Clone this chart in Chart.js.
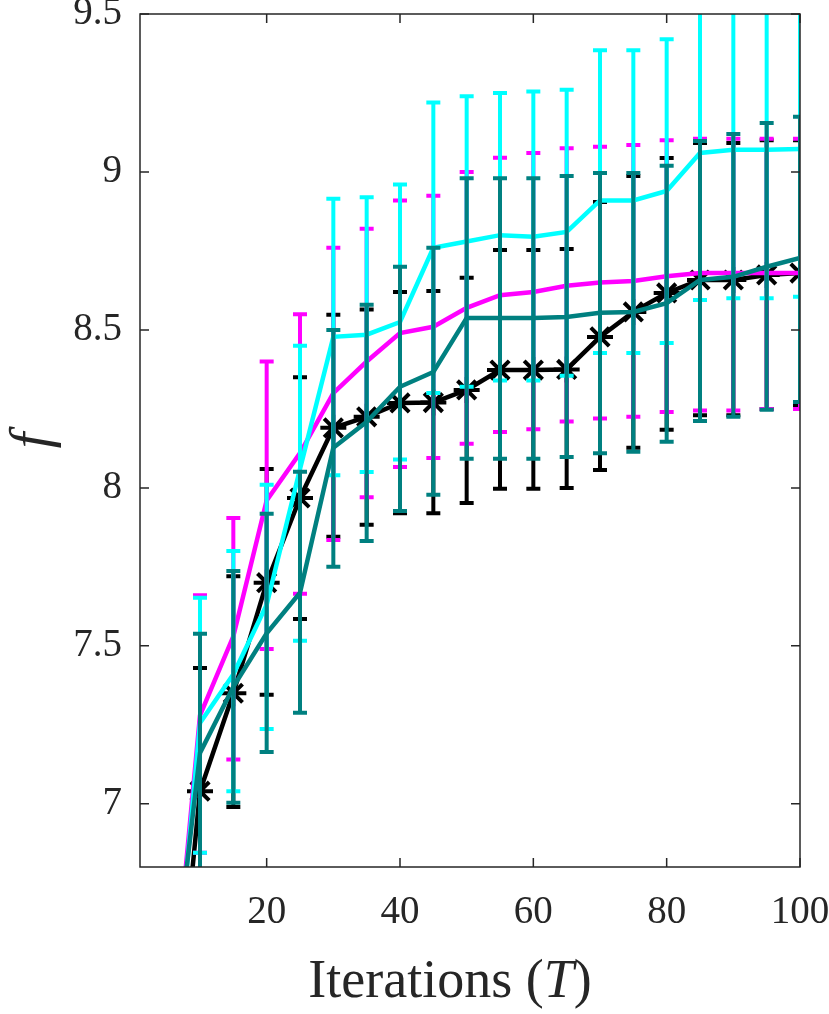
<!DOCTYPE html>
<html>
<head>
<meta charset="utf-8">
<script src="https://cdn.jsdelivr.net/npm/chart.js@4.4.0/dist/chart.umd.min.js"></script>
<style>
  html, body { margin: 0; padding: 0; background: #fff; }
  #wrap { width: 829px; height: 1014px; position: relative; }
</style>
</head>
<body>
<div id="wrap"><canvas id="chart"></canvas></div>
<script>
const iterations = [5, 10, 15, 20, 25, 30, 35, 40, 45, 50, 55, 60, 65, 70, 75, 80, 85, 90, 95, 100];

const magentaMean = [6.15, 7.28, 7.53, 7.96, 8.11, 8.30, 8.40, 8.49, 8.51, 8.57, 8.61, 8.62, 8.64, 8.65, 8.655, 8.67, 8.68, 8.68, 8.68, 8.68];
const magentaHi = [null, 7.66, 7.905, 8.40, 8.55, 8.76, 8.82, 8.91, 8.925, 9.00, 9.045, 9.06, 9.075, 9.08, 9.085, 9.10, 9.105, 9.105, 9.105, 9.105];
const magentaLo = [null, 6.845, 7.14, 7.49, 7.665, 7.835, 7.97, 8.066, 8.095, 8.14, 8.177, 8.186, 8.21, 8.22, 8.225, 8.24, 8.245, 8.245, 8.25, 8.25];

const cyanMean = [6.10, 7.256, 7.41, 7.63, 8.06, 8.478, 8.485, 8.525, 8.76, 8.78, 8.80, 8.795, 8.81, 8.91, 8.91, 8.94, 9.06, 9.07, 9.07, 9.073];
const cyanHi = [null, 7.652, 7.80, 8.01, 8.45, 8.915, 8.92, 8.96, 9.22, 9.24, 9.25, 9.255, 9.26, 9.385, 9.385, 9.42, 9.53, 9.54, 9.54, 9.54];
const cyanLo = [null, 6.845, 7.04, 7.237, 7.516, 8.04, 8.05, 8.09, 8.30, 8.32, 8.34, 8.34, 8.355, 8.427, 8.427, 8.459, 8.595, 8.60, 8.60, 8.605];

const blackMean = [5.95, 7.04, 7.35, 7.70, 7.968, 8.19, 8.225, 8.269, 8.27, 8.31, 8.373, 8.373, 8.375, 8.478, 8.557, 8.617, 8.658, 8.658, 8.674, 8.68];
const blackHi = [null, 7.43, 7.72, 8.06, 8.35, 8.548, 8.565, 8.62, 8.623, 8.665, 8.753, 8.753, 8.756, 8.905, 8.987, 9.044, 9.092, 9.092, 9.10, 9.10];
const blackLo = [null, 6.65, 6.99, 7.345, 7.585, 7.845, 7.883, 7.92, 7.92, 7.952, 7.997, 7.997, 8.0, 8.057, 8.127, 8.184, 8.23, 8.23, 8.25, 8.26];

const tealMean = [6.25, 7.161, 7.37, 7.54, 7.668, 8.127, 8.209, 8.32, 8.367, 8.538, 8.538, 8.538, 8.541, 8.554, 8.557, 8.585, 8.658, 8.668, 8.70, 8.728];
const tealHi = [null, 7.538, 7.737, 7.918, 8.051, 8.5, 8.58, 8.70, 8.76, 8.98, 8.98, 8.98, 8.987, 8.997, 8.997, 9.02, 9.098, 9.12, 9.155, 9.175];
const tealLo = [null, 6.78, 7.003, 7.164, 7.288, 7.75, 7.832, 7.927, 7.978, 8.092, 8.092, 8.092, 8.098, 8.11, 8.114, 8.146, 8.212, 8.225, 8.247, 8.272];

const xTicks = [20, 40, 60, 80, 100];
const yTicks = [7, 7.5, 8, 8.5, 9, 9.5];

const SERIF = "'Liberation Serif', 'Times New Roman', serif";
const AXIS_COLOR = "#262626";

function toPoints(vals) {
  return vals.map((v, i) => ({ x: iterations[i], y: v }));
}

// error bars drawn right before each dataset's line
const errorBars = {
  id: "errorBars",
  beforeDatasetDraw(chart, args) {
    const ds = chart.data.datasets[args.index];
    if (!ds.errHi) return;
    const { ctx, chartArea: a } = chart;
    const x = chart.scales.x, y = chart.scales.y;
    ctx.save();
    ctx.beginPath();
    ctx.rect(a.left, a.top, a.right - a.left, a.bottom - a.top);
    ctx.clip();
    ctx.strokeStyle = ds.borderColor;
    ctx.lineWidth = 4;
    ctx.lineCap = "butt";
    ds.errHi.forEach((hi, i) => {
      const lo = ds.errLo[i];
      if (hi == null || lo == null) return;
      const px = x.getPixelForValue(iterations[i]);
      const pHi = y.getPixelForValue(hi);
      const pLo = y.getPixelForValue(lo);
      ctx.beginPath();
      ctx.moveTo(px, pHi); ctx.lineTo(px, pLo);
      ctx.moveTo(px - 7, pHi); ctx.lineTo(px + 7, pHi);
      ctx.moveTo(px - 7, pLo); ctx.lineTo(px + 7, pLo);
      ctx.stroke();
    });
    ctx.restore();
  }
};

// box, inward ticks and axis titles
const frame = {
  id: "frame",
  afterDraw(chart) {
    const { ctx, chartArea: a } = chart;
    const x = chart.scales.x, y = chart.scales.y;
    ctx.save();
    ctx.strokeStyle = AXIS_COLOR;
    ctx.lineWidth = 1.5;
    ctx.strokeRect(a.left, a.top, a.right - a.left, a.bottom - a.top);
    ctx.beginPath();
    xTicks.forEach(t => {
      const px = x.getPixelForValue(t);
      ctx.moveTo(px, a.bottom); ctx.lineTo(px, a.bottom - 9);
      ctx.moveTo(px, a.top); ctx.lineTo(px, a.top + 9);
    });
    yTicks.forEach(t => {
      const py = y.getPixelForValue(t);
      ctx.moveTo(a.left, py); ctx.lineTo(a.left + 9, py);
      ctx.moveTo(a.right, py); ctx.lineTo(a.right - 9, py);
    });
    ctx.stroke();

    ctx.fillStyle = AXIS_COLOR;
    ctx.textBaseline = "alphabetic";
    const parts = [
      { t: "Iterations (", f: "54px " + SERIF },
      { t: "T", f: "italic 54px " + SERIF },
      { t: ")", f: "54px " + SERIF }
    ];
    let total = 0;
    parts.forEach(p => { ctx.font = p.f; p.w = ctx.measureText(p.t).width; total += p.w; });
    let cx = 450 - total / 2;
    ctx.textAlign = "left";
    parts.forEach(p => { ctx.font = p.f; ctx.fillText(p.t, cx, 997); cx += p.w; });

    ctx.translate(34, (a.top + a.bottom) / 2);
    ctx.rotate(-Math.PI / 2);
    ctx.textAlign = "center";
    ctx.textBaseline = "middle";
    ctx.font = "italic 56px " + SERIF;
    ctx.fillText("f", 0, 0);
    ctx.restore();
  }
};

new Chart(document.getElementById("chart"), {
  type: "line",
  data: {
    datasets: [
      {
        label: "black", data: toPoints(blackMean), errHi: blackHi, errLo: blackLo,
        borderColor: "#000000", backgroundColor: "#000000", borderWidth: 4.5,
        pointStyle: "star", pointRadius: 13, pointBorderWidth: 4, order: 4
      },
      {
        label: "magenta", data: toPoints(magentaMean), errHi: magentaHi, errLo: magentaLo,
        borderColor: "#FF00FF", backgroundColor: "#FF00FF", borderWidth: 4.5,
        pointRadius: 0, order: 3
      },
      {
        label: "cyan", data: toPoints(cyanMean), errHi: cyanHi, errLo: cyanLo,
        borderColor: "#00FFFF", backgroundColor: "#00FFFF", borderWidth: 4.5,
        pointRadius: 0, order: 2
      },
      {
        label: "teal", data: toPoints(tealMean), errHi: tealHi, errLo: tealLo,
        borderColor: "#008080", backgroundColor: "#008080", borderWidth: 4.5,
        pointRadius: 0, order: 1
      }
    ]
  },
  options: {
    responsive: true,
    maintainAspectRatio: false,
    animation: false,
    devicePixelRatio: 1,
    layout: { autoPadding: false, padding: { left: 0, top: 14, right: 29, bottom: 0 } },
    plugins: { legend: { display: false }, tooltip: { enabled: false } },
    elements: { line: { tension: 0 } },
    scales: {
      x: {
        type: "linear", min: 1, max: 100,
        grid: { display: false, drawTicks: false },
        border: { display: false },
        ticks: { font: { family: SERIF, size: 39 }, color: AXIS_COLOR, padding: 22, maxRotation: 0,
                 callback: v => String(v) },
        afterBuildTicks: s => { s.ticks = xTicks.map(v => ({ value: v })); },
        afterFit: s => { s.height = 147; s.paddingLeft = 0; s.paddingRight = 0; }
      },
      y: {
        type: "linear", min: 6.8, max: 9.5,
        grid: { display: false, drawTicks: false },
        border: { display: false },
        ticks: { font: { family: SERIF, size: 39 }, color: AXIS_COLOR, padding: 18,
                 callback: v => String(v) },
        afterBuildTicks: s => { s.ticks = yTicks.map(v => ({ value: v })); },
        afterFit: s => { s.width = 140; s.paddingTop = 0; s.paddingBottom = 0; }
      }
    }
  },
  plugins: [errorBars, frame]
});
</script>
</body>
</html>
